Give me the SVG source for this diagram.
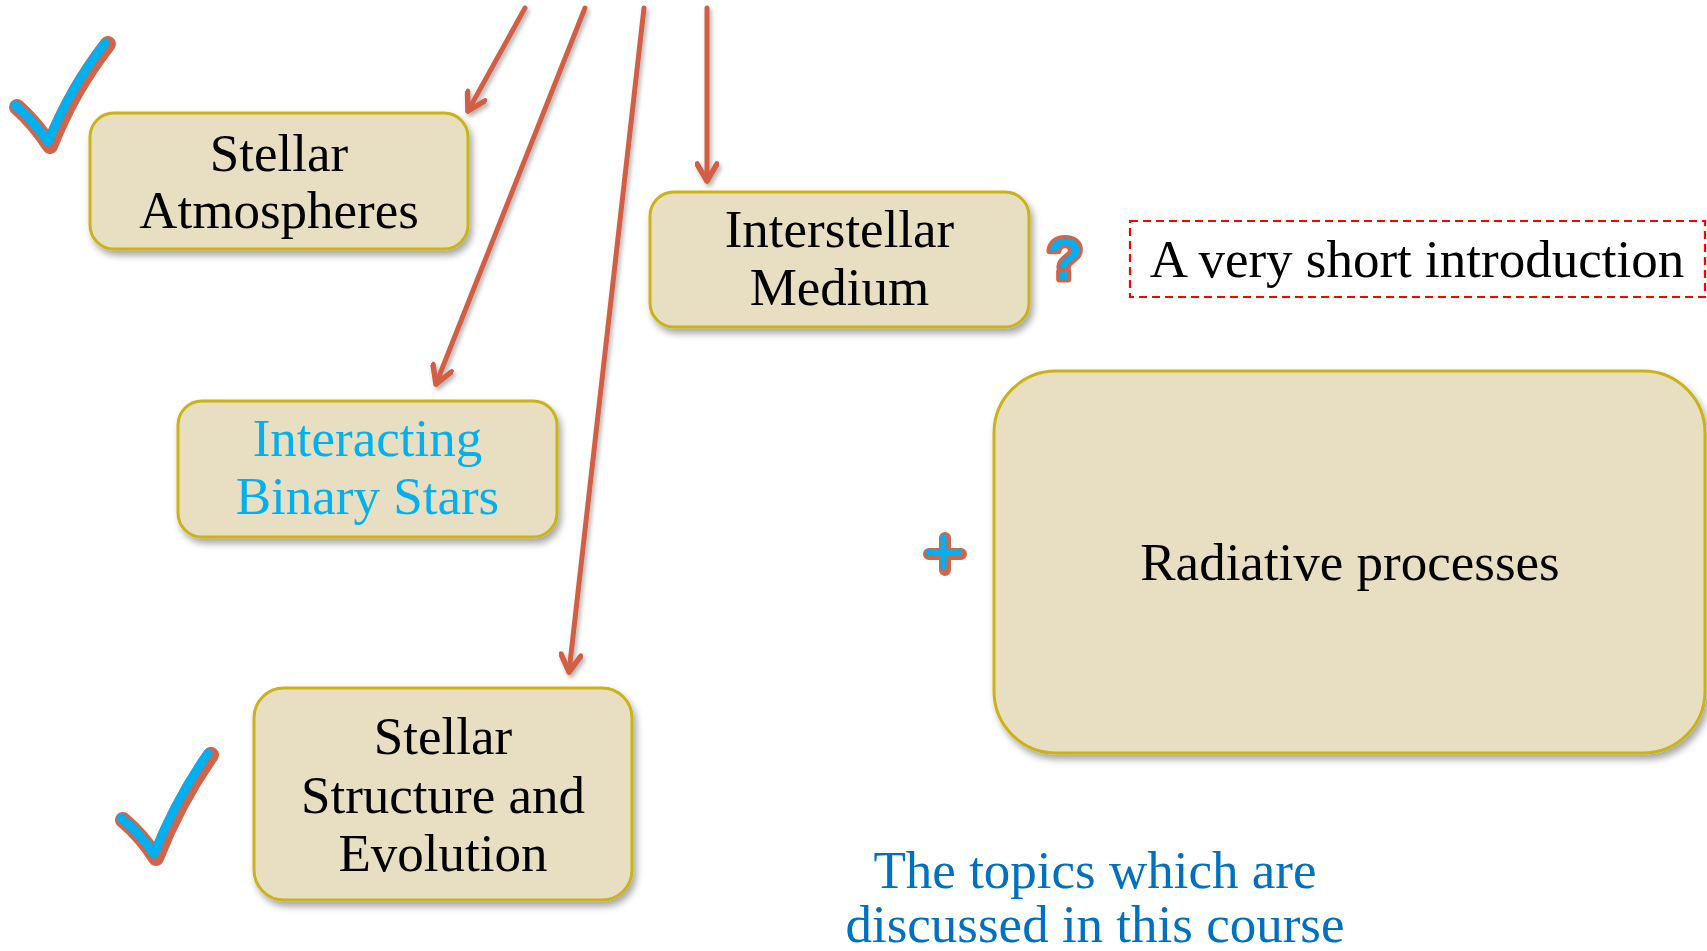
<svg xmlns="http://www.w3.org/2000/svg" width="1707" height="951" viewBox="0 0 1707 951">
  <defs>
    <filter id="boxShadow" x="-10%" y="-10%" width="125%" height="130%">
      <feDropShadow dx="3" dy="5" stdDeviation="3.5" flood-color="#000" flood-opacity="0.35"/>
    </filter>
    <filter id="lineShadow" x="-20%" y="-20%" width="140%" height="140%">
      <feDropShadow dx="2" dy="3" stdDeviation="2" flood-color="#000" flood-opacity="0.3"/>
    </filter>
    <marker id="chev" viewBox="-20 -12 24 24" refX="0" refY="0" markerWidth="24" markerHeight="24" markerUnits="userSpaceOnUse" orient="auto">
      <path d="M-17,-10 L0,0 L-17,10" fill="none" stroke="#D05F45" stroke-width="5.5" stroke-linecap="round" stroke-linejoin="round"/>
    </marker>
  </defs>
  <style>
    .box { fill: #E8DFC3; stroke: #CBB214; stroke-width: 3; filter: url(#boxShadow); }
    .lbl { font-family: "Liberation Serif", "Times New Roman", serif; font-size: 53px; text-anchor: middle; fill: #000; }
    .cyan { fill: #00B0F0; }
    .blue { fill: #0070C0; }
    .arrow { fill: none; stroke: #D05F45; stroke-width: 5; stroke-linecap: round; marker-end: url(#chev); }
    .mkRed { fill: none; stroke: #D0654C; stroke-linecap: round; stroke-linejoin: round; }
    .mkBlue { fill: none; stroke: #00B0F0; stroke-linecap: round; stroke-linejoin: round; }
  </style>
  <rect width="1707" height="951" fill="#fff"/>

  <g id="connectors" filter="url(#lineShadow)">
    <line class="arrow" x1="525" y1="8" x2="468" y2="111"/>
    <line class="arrow" x1="585" y1="8" x2="436" y2="384"/>
    <line class="arrow" x1="644" y1="8" x2="569" y2="672"/>
    <line class="arrow" x1="707" y1="8" x2="707" y2="181"/>
  </g>

  <g id="stellar-atmospheres">
    <rect class="box" x="90" y="113" width="378" height="136" rx="24"/>
    <text class="lbl" x="279" y="171">Stellar</text>
    <text class="lbl" x="279" y="228">Atmospheres</text>
  </g>

  <g id="interstellar-medium">
    <rect class="box" x="650" y="192" width="379" height="135" rx="24"/>
    <text class="lbl" x="839.5" y="247">Interstellar</text>
    <text class="lbl" x="839.5" y="305">Medium</text>
  </g>

  <g id="interacting-binary-stars">
    <rect class="box" x="178" y="401" width="379" height="136" rx="24"/>
    <text class="lbl cyan" x="367.5" y="456">Interacting</text>
    <text class="lbl cyan" x="367.5" y="514">Binary Stars</text>
  </g>

  <g id="stellar-structure">
    <rect class="box" x="254" y="688" width="378" height="212" rx="30"/>
    <text class="lbl" x="443" y="754">Stellar</text>
    <text class="lbl" x="443" y="813">Structure and</text>
    <text class="lbl" x="443" y="871">Evolution</text>
  </g>

  <g id="radiative-processes">
    <rect class="box" x="994" y="371" width="711" height="382" rx="62"/>
    <text class="lbl" x="1350" y="580">Radiative processes</text>
  </g>

  <g id="short-intro">
    <rect x="1130" y="221" width="575" height="76" fill="none" stroke="#FF0000" stroke-width="2.2" stroke-dasharray="8 5"/>
    <text class="lbl" x="1417" y="277">A very short introduction</text>
  </g>

  <g id="question-mark">
    <text x="1065" y="279" font-family="Liberation Sans, Arial, sans-serif" font-weight="bold" font-size="58" text-anchor="middle" fill="#00B0F0" stroke="#D0654C" stroke-width="7" stroke-linejoin="round" paint-order="stroke">?</text>
  </g>

  <g id="plus-sign">
    <path class="mkRed" d="M929,554 L961,554 M945,538 L945,570" stroke-width="12"/>
    <path class="mkBlue" d="M928,552 L959,552 M943.5,537 L943.5,567" stroke-width="6"/>
  </g>

  <g id="check-1">
    <path class="mkRed" d="M17,107 Q36,124 50,146 Q72,90 108,44" stroke-width="16"/>
    <path class="mkBlue" d="M15,105 Q34,121 48,142 Q70,88 105,43" stroke-width="9"/>
  </g>

  <g id="check-2">
    <path class="mkRed" d="M123,820 Q142,836 156,858 Q178,802 211,755" stroke-width="16"/>
    <path class="mkBlue" d="M121,818 Q140,833 154,854 Q176,799 208,753" stroke-width="9"/>
  </g>

  <g id="caption">
    <text class="lbl blue" x="1095" y="888">The topics which are</text>
    <text class="lbl blue" x="1095" y="942">discussed in this course</text>
  </g>
</svg>
